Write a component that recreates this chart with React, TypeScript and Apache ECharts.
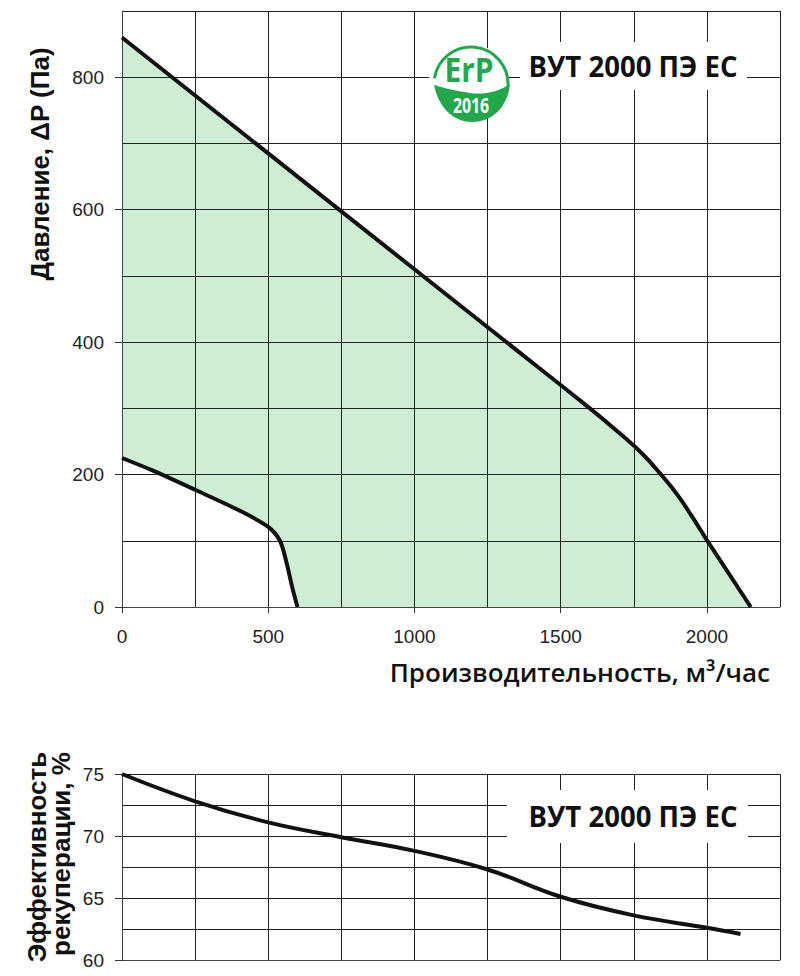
import React, { useEffect, useRef } from "react";
import * as echarts from "echarts";

// ---- data ----
const X_TICKS = [0, 500, 1000, 1500, 2000];
const P_TICKS = [0, 200, 400, 600, 800];
const EFF_TICKS = [60, 65, 70, 75];
const MODEL = "ВУТ 2000 ПЭ ЕС";
const X_TITLE = "Производительность, м³/час";
const P_TITLE = "Давление, ΔP (Па)";
const EFF_TITLE_1 = "Эффективность";
const EFF_TITLE_2 = "рекуперации, %";

// max speed curve (flow m3/h, pressure Pa)
const maxCurve: [number, number][] = [
  [0, 860], [500, 685], [1000, 510], [1300, 405], [1600, 300], [1700, 263],
  [1780, 231], [1843, 200], [1900, 169], [1950, 136], [2000, 101], [2150, 0],
];
// min speed curve
const minCurve: [number, number][] = [
  [0, 225], [100, 207], [250, 177], [400, 146], [500, 121],
  [540, 100], [562, 68], [582, 30], [600, 0],
];
// recuperation efficiency (flow, %)
const efficiency: [number, number][] = [
  [0, 75], [250, 72.8], [500, 71.1], [750, 69.9], [1000, 68.8],
  [1250, 67.3], [1500, 65.1], [1750, 63.6], [2000, 62.6], [2115, 62.1],
];

const GREEN = "#22a84a";
const FILL = "#cdeed3";
const GRID_C = "#222";

echarts.graphic.registerShape(
  "erpLeaf",
  echarts.graphic.extendPath(
    "M 434 85 C 439 110 456 122 472 122 C 494 122 508 105 510 84 C 498 92 484 95 470 93 C 456 91 444 88 434 85 Z",
    {}
  )
);

const tickFont = { fontSize: 19, color: "#222", fontFamily: "Liberation Sans, Arial, sans-serif" };
const plain = (v: number) => String(v);

export default function App() {
  const ref = useRef<HTMLDivElement>(null);
  useEffect(() => {
    document.body.style.margin = "0";
    const chart = echarts.init(ref.current!, null, { renderer: "svg" });
    const gridX = (gi: number) => ({
      type: "value" as const, gridIndex: gi, min: 0, max: 2250, interval: 250, z: 3,
      splitLine: { show: true, lineStyle: { color: GRID_C, width: 1 } },
      axisLine: { show: true, onZero: false, lineStyle: { color: "#444", width: 1 } },
      axisTick: { show: false }, axisLabel: { show: false },
    });
    const gridY = (gi: number, min: number, max: number, interval: number) => ({
      type: "value" as const, gridIndex: gi, min, max, interval, z: 3,
      splitLine: { show: true, lineStyle: { color: GRID_C, width: 1 } },
      axisLine: { show: true, onZero: false, lineStyle: { color: "#444", width: 1 } },
      axisTick: { show: false }, axisLabel: { show: false },
    });
    const lineSeries = (xi: number, data: [number, number][], smooth: number) => ({
      type: "line", xAxisIndex: xi, yAxisIndex: xi, data,
      smooth, showSymbol: false, symbol: "none",
      lineStyle: { width: 4, color: "#111" }, z: 5,
    });
    chart.setOption({
      animation: false,
      backgroundColor: "#fff",
      grid: [
        { left: 122, top: 11, right: 20, height: 596 },
        { left: 122, top: 774, right: 20, height: 186 },
      ],
      xAxis: [
        gridX(0),
        gridX(1),
        {
          type: "value", gridIndex: 0, min: 0, max: 2250, position: "bottom", z: 3,
          splitLine: { show: false }, axisLine: { show: false, onZero: false },
          axisTick: { show: true, customValues: X_TICKS, length: 6, lineStyle: { color: "#333" } },
          axisLabel: { ...tickFont, customValues: X_TICKS, margin: 20, formatter: plain },
        },
      ],
      yAxis: [
        gridY(0, 0, 900, 100),
        gridY(1, 60, 75, 2.5),
        {
          type: "value", gridIndex: 0, min: 0, max: 900, position: "left", z: 3,
          splitLine: { show: false }, axisLine: { show: false, onZero: false },
          axisTick: { show: true, customValues: P_TICKS, length: 7, lineStyle: { color: "#333" } },
          axisLabel: { ...tickFont, customValues: P_TICKS, margin: 18, formatter: plain },
        },
        {
          type: "value", gridIndex: 1, min: 60, max: 75, position: "left", z: 3,
          splitLine: { show: false }, axisLine: { show: false, onZero: false },
          axisTick: { show: true, customValues: EFF_TICKS, length: 7, lineStyle: { color: "#333" } },
          axisLabel: { ...tickFont, customValues: EFF_TICKS, margin: 18, formatter: plain },
        },
      ],
      series: [
        {
          type: "line", xAxisIndex: 0, yAxisIndex: 0, data: maxCurve,
          smooth: 0.5, showSymbol: false, symbol: "none",
          lineStyle: { width: 0, opacity: 0 }, areaStyle: { color: FILL, opacity: 1 }, z: 1, silent: true,
        },
        {
          type: "line", xAxisIndex: 0, yAxisIndex: 0, data: minCurve,
          smooth: 0.3, showSymbol: false, symbol: "none",
          lineStyle: { width: 0, opacity: 0 }, areaStyle: { color: "#ffffff", opacity: 1 }, z: 1, silent: true,
        },
        lineSeries(0, maxCurve, 0.5),
        lineSeries(0, minCurve, 0.3),
        lineSeries(1, efficiency, 0.4),
      ],
      graphic: [
        {
          type: "text", x: 40, y: 164, rotation: Math.PI / 2, z: 100,
          style: {
            text: P_TITLE, x: 0, y: 0, align: "center", verticalAlign: "middle",
            fontSize: 26, fontWeight: "bold", fontFamily: "Liberation Sans, Arial, sans-serif", fill: "#111",
          },
        },
        {
          type: "text", x: 770, y: 672, z: 100,
          style: {
            text: X_TITLE, x: 0, y: 0, align: "right", verticalAlign: "middle",
            fontSize: 26, fontWeight: 600, fontFamily: "Open Sans, sans-serif", fill: "#111",
          },
        },
        {
          type: "text", x: 37, y: 857, rotation: Math.PI / 2, z: 100,
          style: {
            text: EFF_TITLE_1, x: 0, y: 0, align: "center", verticalAlign: "middle",
            fontSize: 26, fontWeight: "bold", fontFamily: "Liberation Sans, Arial, sans-serif", fill: "#111",
          },
        },
        {
          type: "text", x: 61, y: 854, rotation: Math.PI / 2, z: 100,
          style: {
            text: EFF_TITLE_2, x: 0, y: 0, align: "center", verticalAlign: "middle",
            fontSize: 26, fontWeight: "bold", fontFamily: "Liberation Sans, Arial, sans-serif", fill: "#111",
          },
        },
        { type: "rect", shape: { x: 520, y: 42, width: 227, height: 48 }, style: { fill: "#fff" }, z: 99 },
        {
          type: "text", x: 633, y: 66, scaleX: 0.95, z: 100,
          style: {
            text: MODEL, x: 0, y: 0, align: "center", verticalAlign: "middle",
            fontSize: 29, fontWeight: "bold", fontFamily: "Open Sans, sans-serif", fill: "#111",
          },
        },
        { type: "rect", shape: { x: 507, y: 790, width: 241, height: 53 }, style: { fill: "#fff" }, z: 99 },
        {
          type: "text", x: 633, y: 816, scaleX: 0.95, z: 100,
          style: {
            text: MODEL, x: 0, y: 0, align: "center", verticalAlign: "middle",
            fontSize: 29, fontWeight: "bold", fontFamily: "Open Sans, sans-serif", fill: "#111",
          },
        },
        { type: "circle", shape: { cx: 468, cy: 82, r: 39 }, style: { fill: "#fff" }, z: 99 },
        {
          type: "arc", z: 100,
          shape: { cx: 471, cy: 84, r: 37, startAngle: Math.PI * 1.05, endAngle: Math.PI * 2.02, clockwise: true },
          style: { stroke: GREEN, lineWidth: 3, fill: null },
        },
        { type: "erpLeaf", x: 0, y: 0, z: 100, style: { fill: GREEN } },
        {
          type: "text", x: 469, y: 69, scaleX: 0.88, z: 101,
          style: {
            text: "ErP", x: 0, y: 0, align: "center", verticalAlign: "middle",
            fontSize: 34, fontWeight: "bold", fontFamily: "Open Sans, sans-serif", fill: GREEN,
          },
        },
        {
          type: "text", x: 471, y: 105, scaleX: 0.72, z: 101,
          style: {
            text: "2016", x: 0, y: 0, align: "center", verticalAlign: "middle",
            fontSize: 22, fontWeight: "bold", fontFamily: "Open Sans, sans-serif", fill: "#fff",
          },
        },
      ],
    });
    return () => chart.dispose();
  }, []);
  return <div ref={ref} style={{ width: 800, height: 976 }} />;
}
